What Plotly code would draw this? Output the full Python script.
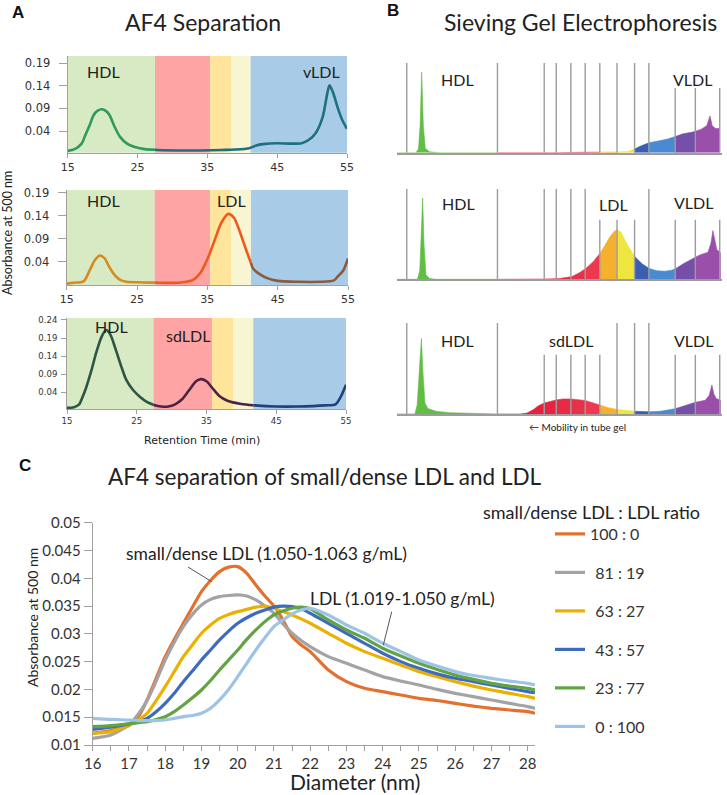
import numpy as np
import plotly.graph_objects as go

W, H = 727, 795
def px(x): return x / W
def py(y): return 1 - y / H

# ---------------- Panel A : AF4 separation ----------------
a_x_ticks = [15, 25, 35, 45, 55]
a_y_ticks = [0.04, 0.09, 0.14, 0.19]
a_y_ticks_bottom = [0.04, 0.09, 0.14, 0.19, 0.24]
a_band_edges = [15, 27.5, 35.4, 38.4, 41.2, 55]
a_band_edges_bottom = [15, 27.4, 35.8, 38.8, 41.7, 55]
a_band_colors = ["#D7EAC3", "#FFA4A4", "#FFE59C", "#F7F5D2", "#A8CBE7"]

a1_time = [15, 16, 17, 17.5, 18.2, 18.7, 19.3, 19.9, 20.5, 21, 21.7, 22.5, 23.5, 24.5, 26, 28, 31, 34, 37, 39,
           41, 42, 43, 45, 47, 48.5, 49.5, 50.5, 51.5, 52.2, 52.5, 53, 53.7, 54.3, 55]
a1_abs = [-0.004, 0.0, 0.012, 0.03, 0.055, 0.075, 0.085, 0.088, 0.084, 0.075, 0.05, 0.027, 0.012, 0.005, 0.0,
          -0.002, -0.003, -0.003, -0.002, -0.001, 0.002, 0.008, 0.011, 0.013, 0.012, 0.013, 0.02, 0.035, 0.07,
          0.125, 0.141, 0.125, 0.09, 0.065, 0.045]
a1_segments = [(15, 27.5, "#2F9A5E"), (27.5, 55, "#1C7080")]

a2_time = [15, 16, 17.4, 18.3, 19.0, 19.7, 20.4, 21.0, 21.6, 22.6, 23.5, 25, 28, 31, 32, 33, 34, 35, 36, 37, 38,
           38.8, 39.5, 40.3, 41, 41.5, 42.5, 43.5, 45, 48, 51, 53, 53.5, 54.3, 55]
a2_abs = [-0.008, -0.006, -0.003, 0.022, 0.043, 0.053, 0.047, 0.03, 0.015, 0.0, -0.004, -0.005, -0.006, -0.006,
          -0.004, 0.0, 0.015, 0.045, 0.085, 0.125, 0.144, 0.135, 0.11, 0.075, 0.045, 0.025, 0.012, 0.004,
          -0.002, -0.004, -0.004, -0.001, 0.007, 0.02, 0.047]
a2_segments = [(15, 27.5, "#D68B20"), (27.5, 41.2, "#EF5A1C"), (41.2, 55, "#8A5B3E")]

a3_time = [15, 16, 16.7, 17.2, 17.7, 18.5, 19.2, 20.0, 20.6, 21.2, 22.0, 22.8, 23.5, 24.5, 25.4, 26.5, 27.5, 28.5,
           29.5, 30.5, 31.5, 32.5, 33.5, 34.2, 35.0, 35.8, 36.8, 38.0, 40, 42, 45, 48, 52, 53.5, 54.2, 55]
a3_abs = [-0.004, -0.002, 0.005, 0.025, 0.05, 0.1, 0.15, 0.195, 0.212, 0.2, 0.157, 0.11, 0.074, 0.045, 0.028,
          0.012, 0.004, 0.0, 0.0, 0.006, 0.02, 0.045, 0.07, 0.076, 0.07, 0.052, 0.03, 0.016, 0.007, 0.003, 0.0,
          0.0, 0.003, 0.006, 0.025, 0.06]
a3_segments = [(15, 27.4, "#2E5446"), (27.4, 41.7, "#4A2448"), (41.7, 55, "#22407A")]

# ---------------- Panel B : sieving gel electrophoresis ----------------
b_line_pos = [3.0, 30.9, 45.3, 49.0, 53.5, 57.9, 62.4, 67.7, 73.1, 77.5, 85.6, 91.8, 99.3]
b1_line_h = [1, 1, 1, 1, 1, 1, 1, 1, 1, 1, 0.72, 0.72, 0.72]
b2_line_h = [1, 1, 1, 1, 1, 1, 0.66, 0.66, 0.66, 1, 0.66, 0.66, 0.66]
b3_line_h = [1, 1, 0.65, 0.65, 0.65, 0.65, 0.65, 1, 1, 1, 0.65, 0.65, 0.65]
b_seg_edges = [0, 30.9, 45.3, 49.0, 53.5, 57.9, 62.4, 67.7, 73.1, 77.5, 85.6, 91.8, 100]
b_seg_colors = ["#62BD45", "#E5213F", "#E6243F", "#E82A45", "#E8304A", "#EB3A50", "#F5B12E", "#EEE63F",
                "#3B5FB0", "#4A8AD2", "#7650A8", "#9A4FAA"]

b1_mob = [0, 5.8, 6.6, 7.1, 7.6, 8.1, 8.7, 10, 13, 30, 50, 56, 62, 68, 71, 73.1, 75, 77.5, 80, 83, 85.6, 88, 91,
          93.5, 95.3, 96.3, 97.0, 98, 99.3]
b1_int = [0, 0, 0.04, 0.3, 0.9, 0.3, 0.05, 0.01, 0, 0, 0, 0.005, 0.006, 0.008, 0.012, 0.04, 0.075, 0.11, 0.13,
          0.15, 0.18, 0.21, 0.23, 0.26, 0.3, 0.41, 0.3, 0.27, 0.27]

b2_mob = [0, 6.3, 7.0, 7.5, 7.9, 8.3, 8.9, 10, 12, 40, 47, 50, 53.8, 56, 58.1, 60.5, 62.7, 64.2, 65.5, 66.8, 67.8,
          69, 70.2, 71.8, 73.2, 75.5, 77.6, 80, 82.5, 84.5, 85.8, 88, 90, 93.2, 95.7, 96.6, 97.2, 97.8, 98.4, 99.6]
b2_int = [0, 0, 0.1, 0.5, 0.9, 0.4, 0.05, 0.01, 0, 0, 0.003, 0.008, 0.03, 0.07, 0.12, 0.2, 0.3, 0.39, 0.47, 0.53,
          0.55, 0.52, 0.43, 0.33, 0.25, 0.17, 0.12, 0.095, 0.09, 0.1, 0.12, 0.17, 0.21, 0.27, 0.3, 0.4, 0.54, 0.42,
          0.33, 0.29]

b3_mob = [0, 5.5, 6.2, 7.0, 7.5, 8.0, 8.6, 9.5, 12, 16, 22, 30, 38, 40, 42, 43.5, 45.3, 47, 49, 51, 53.4, 55.5,
          57.8, 60, 62.3, 65, 67.8, 70.5, 73.2, 77.6, 81, 85.8, 88, 90, 91.9, 94.8, 96.0, 96.9, 97.5, 98.2, 99.6]
b3_int = [0, 0, 0.1, 0.5, 0.83, 0.45, 0.12, 0.06, 0.03, 0.015, 0.006, 0, 0, 0.01, 0.05, 0.09, 0.12, 0.14, 0.155,
          0.165, 0.165, 0.16, 0.15, 0.125, 0.10, 0.07, 0.05, 0.04, 0.03, 0.025, 0.03, 0.06, 0.085, 0.105, 0.13,
          0.15, 0.2, 0.32, 0.22, 0.17, 0.15]

# ---------------- Panel C : sdLDL / LDL mixtures ----------------
c_diam = [16, 16.5, 17, 17.25, 17.5, 17.75, 18, 18.25, 18.5, 18.75, 19, 19.25, 19.5, 19.75, 20, 20.25, 20.5,
          20.75, 21, 21.25, 21.5, 21.75, 22, 22.5, 23, 23.5, 24, 24.5, 25, 25.5, 26, 26.5, 27, 27.5, 28, 28.2]
c_100_0 = [0.0121, 0.0126, 0.0135, 0.015, 0.0181, 0.022, 0.0259, 0.029, 0.0319, 0.0348, 0.0376, 0.0396, 0.0412,
           0.042, 0.0421, 0.0409, 0.0388, 0.0368, 0.035, 0.0325, 0.0295, 0.028, 0.0268, 0.0235, 0.0214, 0.0202,
           0.0196, 0.019, 0.0184, 0.018, 0.0175, 0.017, 0.0166, 0.0163, 0.016, 0.0157]
c_81_19 = [0.0112, 0.0118, 0.0136, 0.0155, 0.018, 0.0215, 0.0253, 0.0285, 0.0313, 0.0335, 0.0352, 0.0362, 0.0367,
           0.0369, 0.037, 0.0368, 0.0361, 0.035, 0.0337, 0.0318, 0.0301, 0.0288, 0.0277, 0.0259, 0.0247, 0.0235,
           0.0223, 0.0215, 0.0208, 0.02, 0.0193, 0.0187, 0.0181, 0.0175, 0.0169, 0.0166]
c_63_27 = [0.0121, 0.0124, 0.0136, 0.0145, 0.0157, 0.018, 0.0205, 0.0232, 0.0259, 0.028, 0.0301, 0.0316, 0.0328,
           0.0335, 0.034, 0.0344, 0.0348, 0.035, 0.0346, 0.034, 0.0334, 0.0327, 0.0319, 0.0301, 0.0283, 0.0268,
           0.0256, 0.0244, 0.0232, 0.0223, 0.0214, 0.0206, 0.0199, 0.0193, 0.0187, 0.0184]
c_43_57 = [0.0128, 0.0132, 0.0138, 0.0142, 0.0148, 0.016, 0.0175, 0.0193, 0.0214, 0.0233, 0.0253, 0.0271, 0.0289,
           0.0305, 0.0319, 0.0329, 0.0337, 0.0343, 0.0348, 0.035, 0.0349, 0.0345, 0.0337, 0.0319, 0.0301, 0.0283,
           0.0265, 0.025, 0.0238, 0.0228, 0.022, 0.0214, 0.0208, 0.0202, 0.0196, 0.0194]
c_23_77 = [0.0133, 0.0135, 0.0138, 0.014, 0.0142, 0.0146, 0.0151, 0.016, 0.0172, 0.0185, 0.0199, 0.0216, 0.0235,
           0.0253, 0.0271, 0.029, 0.0307, 0.0322, 0.0334, 0.0341, 0.0346, 0.0348, 0.0345, 0.0325, 0.0307, 0.0292,
           0.0274, 0.026, 0.0247, 0.0236, 0.0226, 0.0218, 0.0211, 0.0206, 0.0202, 0.0199]
c_0_100 = [0.0148, 0.0146, 0.0145, 0.0144, 0.0144, 0.0144, 0.0145, 0.0148, 0.0151, 0.0153, 0.0157, 0.0166, 0.0181,
           0.02, 0.0223, 0.0247, 0.0271, 0.0293, 0.0313, 0.0325, 0.0336, 0.0343, 0.0346, 0.0334, 0.0316, 0.0301,
           0.0283, 0.0268, 0.0253, 0.0242, 0.0232, 0.0225, 0.022, 0.0215, 0.0211, 0.0208]
c_series = [c_100_0, c_81_19, c_63_27, c_43_57, c_23_77, c_0_100]
c_names = ["100 : 0", "\u200481 : 19", "\u200463 : 27", "\u200443 : 57", "\u200423 : 77", "\u20040 : 100"]
c_colors = ["#E3702E", "#A3A3A3", "#EBB000", "#3F6BBF", "#62A444", "#9DC3E6"]
c_x_ticks = list(range(16, 29))
c_y_ticks = [0.01, 0.015, 0.02, 0.025, 0.03, 0.035, 0.04, 0.045, 0.05]
c_y_labels = ["0.01", "0.015", "0.02", "0.025", "0.03", "0.035", "0.04", "0.045", "0.05"]


def clip_segment(xs, ys, a, b):
    xs = np.asarray(xs, float)
    ys = np.asarray(ys, float)
    inside = (xs > a) & (xs < b)
    sx = np.concatenate([[a], xs[inside], [b]])
    sy = np.concatenate([[np.interp(a, xs, ys)], ys[inside], [np.interp(b, xs, ys)]])
    return sx, sy


fig = go.Figure()
LATO = "Lato"
DJ = "DejaVu Sans"

# ---- A traces ----
for idx, (tx, vy, segs) in enumerate([(a1_time, a1_abs, a1_segments),
                                      (a2_time, a2_abs, a2_segments),
                                      (a3_time, a3_abs, a3_segments)]):
    xa = "x" if idx == 0 else f"x{idx + 1}"
    ya = "y" if idx == 0 else f"y{idx + 1}"
    for a, b, col in segs:
        sx, sy = clip_segment(tx, vy, a, b)
        fig.add_trace(go.Scatter(x=sx, y=sy, mode="lines", line=dict(color=col, width=2.6, shape="spline",
                                 smoothing=0.8), xaxis=xa, yaxis=ya, showlegend=False, hoverinfo="skip"))

# ---- B traces ----
for idx, (mx, iy, lh) in enumerate([(b1_mob, b1_int, b1_line_h),
                                    (b2_mob, b2_int, b2_line_h),
                                    (b3_mob, b3_int, b3_line_h)]):
    xa = f"x{idx + 4}"
    ya = f"y{idx + 4}"
    for k in range(len(b_seg_colors)):
        a, b = b_seg_edges[k], b_seg_edges[k + 1]
        b = min(b, max(mx))
        sx, sy = clip_segment(mx, iy, a, b)
        col = b_seg_colors[k]
        fig.add_trace(go.Scatter(x=sx, y=sy, mode="lines", fill="tozeroy", fillcolor=col,
                                 line=dict(color=col, width=0.6), xaxis=xa, yaxis=ya,
                                 showlegend=False, hoverinfo="skip"))
    lx, ly = [], []
    for p, h in zip(b_line_pos, lh):
        lx += [p, p, None]
        ly += [0, h, None]
    fig.add_trace(go.Scatter(x=lx, y=ly, mode="lines", line=dict(color="#9C9C9C", width=1.4),
                             xaxis=xa, yaxis=ya, showlegend=False, hoverinfo="skip"))

# ---- C traces ----
for i, (vals, name, col) in enumerate(zip(c_series, c_names, c_colors)):
    fig.add_trace(go.Scatter(x=c_diam, y=vals, mode="lines", name=name, legendgroup=f"g{i}",
                             line=dict(color=col, width=3.2, shape="spline", smoothing=0.6),
                             xaxis="x7", yaxis="y7"))

# ---- layout / axes ----
def a_xaxis(dom, size, anchor):
    return dict(domain=dom, anchor=anchor, range=[15, 55], tickvals=a_x_ticks, showgrid=False, zeroline=False,
                showline=True, linecolor="#A0A0A0", linewidth=1, ticks="outside", ticklen=4,
                tickcolor="#A0A0A0", tickfont=dict(family=DJ, size=size, color="#333"), automargin=False)

def a_yaxis(dom, rng, vals, size, anchor, tlen, stand):
    return dict(domain=dom, anchor=anchor, range=rng, tickvals=vals, showgrid=False, zeroline=False,
                showline=True, linecolor="#A0A0A0", linewidth=1, ticks="outside", ticklen=tlen,
                tickcolor="#A0A0A0", tickfont=dict(family=DJ, size=size, color="#333"),
                ticklabelstandoff=stand, automargin=False)

def b_xaxis(dom, anchor):
    return dict(domain=dom, anchor=anchor, range=[0, 100], showgrid=False, zeroline=False, showline=True,
                linecolor="#9C9C9C", linewidth=1.5, showticklabels=False, ticks="", automargin=False)

def b_yaxis(dom, anchor):
    return dict(domain=dom, anchor=anchor, range=[0, 1], visible=False, showgrid=False, zeroline=False,
                automargin=False)

layout = dict(
    template="none",
    width=W, height=H, margin=dict(l=0, r=0, t=0, b=0, pad=0), autosize=False,
    paper_bgcolor="white", plot_bgcolor="white",
    xaxis=a_xaxis([px(67.7), px(347)], 11, "y"),
    yaxis=a_yaxis([py(152.7), py(56)], [-0.008, 0.206], a_y_ticks, 11.5, "x", 8, 6),
    xaxis2=a_xaxis([px(66.7), px(348)], 11, "y2"),
    yaxis2=a_yaxis([py(285), py(190)], [-0.011, 0.196], a_y_ticks, 11.5, "x2", 8, 6),
    xaxis3=a_xaxis([px(67), px(346)], 8.5, "y3"),
    yaxis3=a_yaxis([py(409), py(318)], [-0.007, 0.2455], a_y_ticks_bottom, 8.5, "x3", 5, 2),
    xaxis4=b_xaxis([px(397), px(722)], "y4"), yaxis4=b_yaxis([py(152.7), py(63)], "x4"),
    xaxis5=b_xaxis([px(397), px(722)], "y5"), yaxis5=b_yaxis([py(279.3), py(189)], "x5"),
    xaxis6=b_xaxis([px(397), px(722)], "y6"), yaxis6=b_yaxis([py(414), py(323)], "x6"),
    xaxis7=dict(domain=[px(92.7), px(535)], anchor="y7", range=[16, 28.2], tickvals=c_x_ticks, showgrid=False,
                zeroline=False, showline=True, linecolor="#A0A0A0", linewidth=1, ticks="outside",
                ticklen=5, tickcolor="#A0A0A0", tickfont=dict(family=LATO, size=15, color="#333"),
                minor=dict(dtick=0.5, tick0=16, ticks="outside", ticklen=5, tickcolor="#A0A0A0"),
                automargin=False),
    yaxis7=dict(domain=[py(745), py(522.7)], anchor="x7", range=[0.01, 0.05], tickvals=c_y_ticks,
                ticktext=c_y_labels, showgrid=False, zeroline=False, showline=True, linecolor="#A0A0A0",
                linewidth=1, ticks="outside", ticklen=8, tickcolor="#A0A0A0",
                tickfont=dict(family=LATO, size=15, color="#333"), automargin=False),
    showlegend=True,
    legend=dict(x=px(550), y=py(517), xanchor="left", yanchor="top", bgcolor="rgba(0,0,0,0)",
                font=dict(family=LATO, size=16, color="#333"), tracegroupgap=14.7, itemwidth=30),
)
fig.update_layout(**layout)

# A bands
shapes = []
for ax_i, edges in [(1, a_band_edges), (2, a_band_edges), (3, a_band_edges_bottom)]:
    xr = "x" if ax_i == 1 else f"x{ax_i}"
    yr = "y domain" if ax_i == 1 else f"y{ax_i} domain"
    for k, col in enumerate(a_band_colors):
        shapes.append(dict(type="rect", xref=xr, yref=yr, x0=edges[k], x1=edges[k + 1], y0=0, y1=1,
                           fillcolor=col, line=dict(width=0), layer="below"))
# C pointer lines
for x0, y0, x1, y1 in [(188, 567, 211.7, 581.7), (391.7, 611.7, 383.3, 645)]:
    shapes.append(dict(type="line", xref="paper", yref="paper", x0=px(x0), y0=py(y0), x1=px(x1), y1=py(y1),
                       line=dict(color="#555", width=1)))
fig.update_layout(shapes=shapes)

def ann(text, x, y, size, family=LATO, color="#222", xanchor="center", angle=0, bold=False):
    t = f"<b>{text}</b>" if bold else text
    return dict(text=t, x=px(x), y=py(y), xref="paper", yref="paper", showarrow=False,
                xanchor=xanchor, yanchor="middle", textangle=angle,
                font=dict(family=family, size=size, color=color))

anns = [
    ann("A", 18, 13, 17, family="Liberation Sans", bold=True, color="#111"),
    ann("AF4 Separation", 203, 22, 23),
    ann("B", 393, 11, 17, family="Liberation Sans", bold=True, color="#111"),
    ann("Sieving Gel Electrophoresis", 580, 22, 23),
    ann("C", 25, 465, 17, family="Liberation Sans", bold=True, color="#111"),
    ann("AF4 separation of small/dense LDL and LDL", 325, 476, 22.5),
    ann("HDL", 103, 72, 16), ann("vLDL", 321, 72, 16),
    ann("HDL", 103, 201, 16), ann("LDL", 231, 201, 16),
    ann("HDL", 111, 326, 16), ann("sdLDL", 188, 335, 16),
    ann("HDL", 457, 80, 16), ann("VLDL", 692, 80, 16),
    ann("HDL", 458, 204, 16), ann("LDL", 613, 205, 16), ann("VLDL", 693, 203, 16),
    ann("HDL", 457, 340, 16), ann("sdLDL", 571, 340, 16), ann("VLDL", 693, 340, 16),
    ann("\u2190 Mobility in tube gel", 577, 427, 10),
    ann("Absorbance at 500 nm", 8, 233, 12.5, angle=-90),
    ann("Retention Time (min)", 202, 440, 11, family=DJ),
    ann("Absorbance at 500 nm", 32, 618, 14, angle=-90),
    ann("Diameter (nm)", 355, 781, 21),
    ann("small/dense LDL (1.050-1.063 g/mL)", 124, 553, 17.5, xanchor="left"),
    ann("LDL (1.019-1.050 g/mL)", 308, 598, 17.5, xanchor="left"),
    ann("small/dense LDL : LDL ratio", 591, 512, 18),
]
fig.update_layout(annotations=anns)

fig.write_html("out.html", config={"displayModeBar": False},
               post_script="document.body.style.margin='0';document.body.style.padding='0';")
